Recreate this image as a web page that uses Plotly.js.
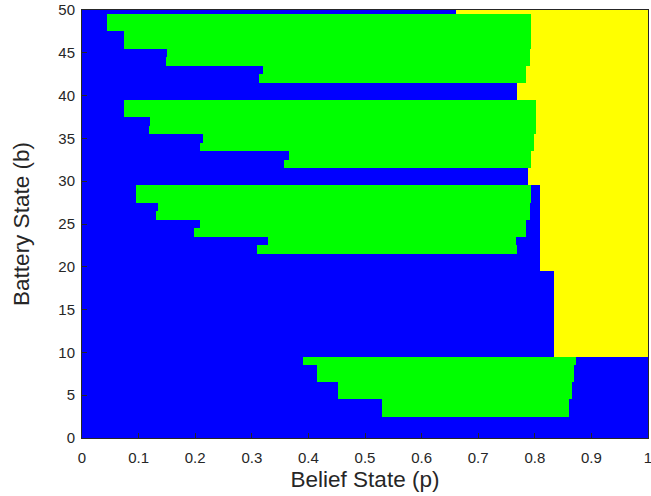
<!DOCTYPE html>
<html>
<head>
<meta charset="utf-8">
<script src="https://cdn.plot.ly/plotly-3.0.1.min.js"></script>
<style>
html,body{margin:0;padding:0;background:#fff;}
#chart{width:651px;height:496px;}
</style>
</head>
<body>
<div id="chart"></div>
<script>
// Battery states (rows)
var batteryStates = [0,1,2,3,4,5,6,7,8,9,10,11,12,13,14,15,16,17,18,19,20,21,22,23,24,25,26,27,28,29,30,31,32,33,34,35,36,37,38,39,40,41,42,43,44,45,46,47,48,49,50];
// Belief p where the green action region starts in each row (null = none)
var greenStart = [null,null,null,0.530,0.530,0.453,0.453,0.4155,0.4155,0.391,
  null,null,null,null,null,null,null,null,null,null,
  null,null,0.310,0.328,0.198,0.208,0.1307,0.1336,0.0954,0.0954,
  null,null,0.3567,0.3655,0.2084,0.2142,0.1183,0.1207,0.0747,0.0747,
  null,null,0.313,0.320,0.148,0.151,0.075,0.075,0.0436,0.0436,
  null];
// Belief p where the green region ends
var greenEnd = [null,null,null,0.861,0.861,0.865,0.865,0.869,0.869,0.872,
  null,null,null,null,null,null,null,null,null,null,
  null,null,0.769,0.766,0.784,0.784,0.791,0.791,0.793,0.793,
  null,null,0.794,0.794,0.799,0.799,0.802,0.802,0.802,0.802,
  null,null,0.785,0.785,0.791,0.791,0.793,0.793,0.793,0.793,
  null];
// Belief p where the yellow region starts (null = none)
var yellowStart = [null,null,null,null,null,null,null,null,null,null,
  0.8335,0.8335,0.8335,0.8335,0.8335,0.8335,0.8335,0.8335,0.8335,0.8335,
  0.810,0.810,0.810,0.810,0.810,0.810,0.810,0.810,0.810,0.810,
  0.788,0.788,0.794,0.794,0.799,0.799,0.802,0.802,0.802,0.802,
  0.769,0.769,0.785,0.785,0.791,0.791,0.793,0.793,0.793,0.793,
  0.660];
// Action codes: 0 = blue, 1 = green, 2 = yellow
var actionColors = ['#0000FF', '#00FF00', '#FFFF00'];
var xTickVals = [0,0.1,0.2,0.3,0.4,0.5,0.6,0.7,0.8,0.9,1];
var xTickText = ['0','0.1','0.2','0.3','0.4','0.5','0.6','0.7','0.8','0.9','1'];
var yTickVals = [0,5,10,15,20,25,30,35,40,45,50];

// Build cell edges from the arrays
var edgeSet = [0, 1];
for (var i = 0; i < batteryStates.length; i++) {
  [greenStart[i], greenEnd[i], yellowStart[i]].forEach(function (v) { if (v !== null) edgeSet.push(v); });
}
edgeSet = edgeSet.filter(function (v, k, a) { return a.indexOf(v) === k; }).sort(function (a, b) { return a - b; });
var xEdges = edgeSet;
var yEdges = [];
for (var i = 0; i < batteryStates.length; i++) yEdges.push(Math.max(0, batteryStates[i] - 0.5));
yEdges.push(Math.min(50, batteryStates[batteryStates.length - 1] + 0.5));

var z = [];
for (var i = 0; i < batteryStates.length; i++) {
  var row = [];
  for (var j = 0; j < xEdges.length - 1; j++) {
    var pc = (xEdges[j] + xEdges[j + 1]) / 2;
    var code = 0;
    if (greenStart[i] !== null && pc >= greenStart[i] && pc < greenEnd[i]) code = 1;
    else if (yellowStart[i] !== null && pc >= yellowStart[i]) code = 2;
    row.push(code);
  }
  z.push(row);
}

var trace = {
  type: 'heatmap',
  x: xEdges,
  y: yEdges,
  z: z,
  zmin: 0, zmax: 2,
  colorscale: [[0, actionColors[0]], [0.5, actionColors[1]], [1, actionColors[2]]],
  showscale: false,
  zsmooth: false,
  hoverinfo: 'skip'
};

var fam = 'Liberation Sans, Arial, sans-serif';
var axisFont = {family: fam, size: 15, color: '#262626'};
var titleFont = {family: fam, size: 22.5, color: '#262626'};
var layout = {
  width: 651, height: 496,
  margin: {l: 82, r: 3, t: 10, b: 58},
  paper_bgcolor: '#ffffff',
  plot_bgcolor: '#ffffff',
  showlegend: false,
  font: axisFont,
  xaxis: {
    range: [0, 1], tickvals: xTickVals, ticktext: xTickText,
    showgrid: false, zeroline: false,
    showline: true, mirror: true, linecolor: '#262626', linewidth: 1,
    ticks: 'inside', ticklen: 5, tickcolor: '#262626',
    tickfont: axisFont, ticklabelstandoff: 6, ticklabeloverflow: 'allow',
    automargin: false,
    title: {text: 'Belief State (p)', font: titleFont, standoff: 6}
  },
  yaxis: {
    range: [0, 50], tickvals: yTickVals,
    showgrid: false, zeroline: false,
    showline: true, mirror: true, linecolor: '#262626', linewidth: 1,
    ticks: 'inside', ticklen: 5, tickcolor: '#262626',
    tickfont: axisFont, ticklabelstandoff: 3, ticklabeloverflow: 'allow',
    automargin: false,
    title: {text: 'Battery State (b)', font: titleFont, standoff: 22}
  }
};

Plotly.newPlot('chart', [trace], layout, {displayModeBar: false, staticPlot: true});
</script>
</body>
</html>
